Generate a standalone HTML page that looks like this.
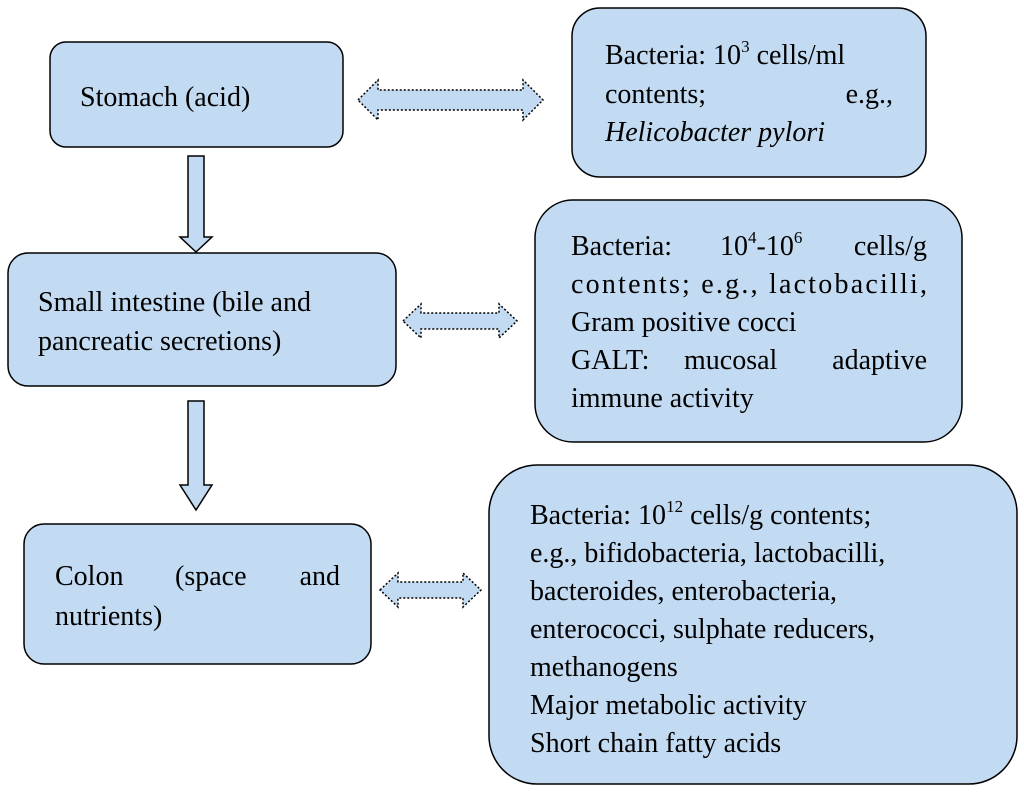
<!DOCTYPE html>
<html><head><meta charset="utf-8"><style>
html,body{margin:0;padding:0;background:#fff;}
svg{display:block;}
text{font-family:"Liberation Serif",serif;font-size:28px;fill:#000;}
</style></head><body>
<svg width="1024" height="792" viewBox="0 0 1024 792" xmlns="http://www.w3.org/2000/svg">
<g fill="#c3dbf2" stroke="#000" stroke-width="1.5">
<rect x="50" y="42" width="293" height="105" rx="16"/>
<rect x="572" y="8" width="354" height="169" rx="28"/>
<rect x="8" y="253" width="388" height="133" rx="20"/>
<rect x="535" y="200" width="427" height="242" rx="38"/>
<rect x="24" y="524" width="347" height="140" rx="20"/>
<rect x="489" y="465" width="528" height="319" rx="48"/>
<polygon points="188,156 204,156 204,237 212,237 196,252 180,237 188,237"/>
<polygon points="188,401 204,401 204,485 212,485 196,510 180,485 188,485"/>
</g>
<g fill="#c3dbf2" stroke="#000" stroke-width="1.5" stroke-dasharray="2,2">
<polygon points="358,100 378,80 378,90 523,90 523,80 543,100 523,120 523,110 378,110 378,120"/>
<polygon points="403,321 421,304 421,313 499,313 499,304 517,321 499,338 499,329 421,329 421,338"/>
<polygon points="380,590 398,573 398,582 463,582 463,573 481,590 463,607 463,598 398,598 398,607"/>
</g>
<text x="80" y="106">Stomach (acid)</text>
<text x="605" y="64">Bacteria: 10<tspan font-size="17" dy="-12">3</tspan><tspan dy="12"> cells/ml</tspan></text>
<text x="605" y="103">contents;</text><text x="893" y="103" text-anchor="end">e.g.,</text>
<text x="605" y="141" font-style="italic">Helicobacter pylori</text>
<text x="38" y="311">Small intestine (bile and</text>
<text x="38" y="350">pancreatic secretions)</text>
<text x="571" y="255">Bacteria:</text>
<text x="720" y="255">10<tspan font-size="17" dy="-12">4</tspan><tspan dy="12">-10</tspan><tspan font-size="17" dy="-12">6</tspan></text>
<text x="927" y="255" text-anchor="end">cells/g</text>
<text x="571" y="293" textLength="356">contents; e.g., lactobacilli,</text>
<text x="571" y="331">Gram positive cocci</text>
<text x="571" y="369">GALT:</text><text x="684" y="369">mucosal</text><text x="927" y="369" text-anchor="end">adaptive</text>
<text x="571" y="407">immune activity</text>
<text x="55" y="585">Colon</text><text x="175" y="585">(space</text><text x="340" y="585" text-anchor="end">and</text>
<text x="55" y="625">nutrients)</text>
<text x="530" y="524">Bacteria: 10<tspan font-size="17" dy="-12">12</tspan><tspan dy="12"> cells/g contents;</tspan></text>
<text x="530" y="562">e.g., bifidobacteria, lactobacilli,</text>
<text x="530" y="600">bacteroides, enterobacteria,</text>
<text x="530" y="638">enterococci, sulphate reducers,</text>
<text x="530" y="676">methanogens</text>
<text x="530" y="714">Major metabolic activity</text>
<text x="530" y="752">Short chain fatty acids</text>
</svg>
</body></html>
